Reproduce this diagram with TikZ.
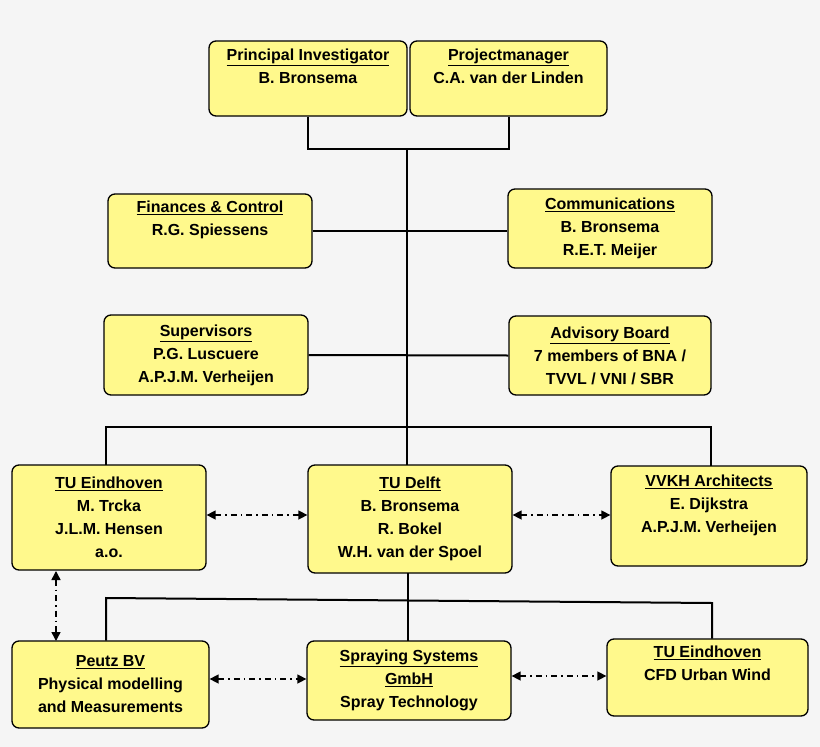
\documentclass[tikz,border=0pt]{standalone}
\usepackage{fontspec}
\setmainfont{Liberation Sans}
\usetikzlibrary{positioning,calc,arrows.meta}

\tikzset{
  box/.style={draw=black,line width=1.3,rounded corners=7pt,fill=yellow!45!white,align=center,
    font=\bfseries\fontsize{16}{23}\selectfont,inner sep=2pt},
  link/.style={line width=2,black},
  tie/.style={line width=1.5,dash pattern=on 6pt off 4pt on 1.5pt off 4pt,{Triangle[length=9pt,width=9pt]}-{Triangle[length=9pt,width=9pt]}}
}

\begin{document}
\begin{tikzpicture}[x=1pt,y=-1pt]
\fill[black!4] (0,0) rectangle (820,747);
\useasboundingbox (0,0) rectangle (820,747);

% management
\node[box,minimum width=198,minimum height=75] (pi) at (308,78.5) {\underline{Principal Investigator}\\B. Bronsema\\[2pt]};
\node[box,minimum width=197,minimum height=75] (pm) at (508.5,78.5) {\underline{Projectmanager}\\C.A. van der Linden\\[2pt]};
\node[box,minimum width=204,minimum height=74] (fin) at (210,231) {\underline{Finances \& Control}\\R.G. Spiessens\\[2pt]};
\node[box,minimum width=204,minimum height=79] (com) at (610,228.5) {\underline{Communications}\\B. Bronsema\\R.E.T. Meijer};
\node[box,minimum width=204,minimum height=80] (sup) at (206,355) {\underline{Supervisors}\\P.G. Luscuere\\A.P.J.M. Verheijen};
\node[box,minimum width=202,minimum height=79] (adv) at (610,355.5) {\underline{Advisory Board}\\7 members of BNA /\\TVVL / VNI / SBR};

% partners
\node[box,minimum width=194,minimum height=105] (tue) at (109,517.5) {\underline{TU Eindhoven}\\M. Trcka\\J.L.M. Hensen\\a.o.};
\node[box,minimum width=204,minimum height=108] (tud) at (410,519) {\underline{TU Delft}\\B. Bronsema\\R. Bokel\\W.H. van der Spoel};
\node[box,minimum width=196,minimum height=100] (vvkh) at (709,516) {\underline{VVKH Architects}\\E. Dijkstra\\A.P.J.M. Verheijen\\[2pt]};
\node[box,minimum width=197,minimum height=87] (peutz) at (110.5,684.5) {\underline{Peutz BV}\\Physical modelling\\and Measurements};
\node[box,minimum width=204,minimum height=79] (spray) at (409,680.5) {\underline{Spraying Systems}\\\underline{GmbH}\\Spray Technology};
\node[box,minimum width=201,minimum height=77] (cfd) at (707.5,677.5) {\underline{TU Eindhoven}\\CFD Urban Wind\\[6pt]};

% tree
\coordinate (top) at (407,149);
\coordinate (bar) at (407,427);
\draw[link] (pi.south) |- (top) -| (pm.south);
\draw[link] (top) -- (bar) -- (407,465);
\draw[link] (fin.east) -- (fin.east -| com.west);
\draw[link] (sup.east) -- (adv.west);
\draw[link] (106,465) |- (bar) -| (711,466);
\draw[link] (408,573) -- (408,641);
\draw[link] (106,640.5) -- (106,598) -- (712,603) -- (712,638.5);

% cooperation
\draw[tie] (tue.east |- 0,515) -- (tud.west |- 0,515);
\draw[tie] (tud.east |- 0,515) -- (vvkh.west |- 0,515);
\draw[tie] (56,571) -- (56,641);
\draw[tie] (peutz.east |- 0,679) -- (spray.west |- 0,679);
\draw[tie] (spray.east |- 0,676) -- (cfd.west |- 0,676);
\end{tikzpicture}
\end{document}
